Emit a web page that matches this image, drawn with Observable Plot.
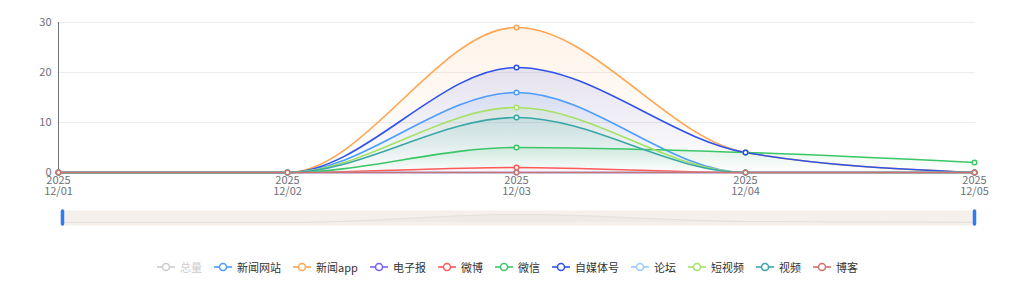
<!DOCTYPE html>
<html><head><meta charset="utf-8">
<script src="https://cdn.jsdelivr.net/npm/d3@7"></script>
<script src="https://cdn.jsdelivr.net/npm/@observablehq/plot@0.6"></script>
<style>
html,body{margin:0;padding:0;background:#fff;}
body{width:1015px;height:288px;overflow:hidden;font-family:"Noto Sans CJK SC","Noto Sans",sans-serif;}
#chart svg,#slider svg{display:block;}
#legend{display:flex;justify-content:center;align-items:center;margin-top:20px;height:14px;font-size:11px;color:#333;}
.item{display:flex;align-items:center;margin-right:12px;white-space:nowrap;}
.item:last-child{margin-right:0;}
.item svg{margin-right:5px;display:block;}
</style></head><body>
<div id="chart"></div>
<div id="slider"></div>
<div id="legend"></div>
<script>
// ---- data ----
const dates = ["2025-12-01","2025-12-02","2025-12-03","2025-12-04","2025-12-05"];
const seriesNames = ["总量","新闻网站","新闻app","电子报","微博","微信","自媒体号","论坛","短视频","视频","博客"];
const seriesColors = ["#CCCCCC","#4D9CFF","#FFA552","#7C5CFF","#FF5B5B","#3DC668","#2E52E8","#99CCFF","#A6E065","#3AA6A6","#C9746F"];
const seriesHidden = [true,false,false,false,false,false,false,false,false,false,false];
const total      = [0,0,96,12,2];
const newsSite   = [0,0,16,0,0];
const newsApp    = [0,0,29,4,0];
const ePaper     = [0,0,0,0,0];
const weibo      = [0,0,1,0,0];
const weixin     = [0,0,5,4,2];
const selfMedia  = [0,0,21,4,0];
const forum      = [0,0,0,0,0];
const shortVideo = [0,0,13,0,0];
const video      = [0,0,11,0,0];
const blog       = [0,0,0,0,0];
const seriesValues = [total,newsSite,newsApp,ePaper,weibo,weixin,selfMedia,forum,shortVideo,video,blog];
const yTicks = [0,10,20,30];

// ---- build table ----
const rows = [];
seriesNames.forEach((name,i)=>{
  if (seriesHidden[i]) return;
  seriesValues[i].forEach((v,j)=>rows.push({series:name, idx:i, date:dates[j], value:v}));
});
const visible = seriesNames.map((n,i)=>i).filter(i=>!seriesHidden[i]);
const fmtDate = d => { const [y,m,dd] = d.split("-"); return `${y}\n${m}/${dd}`; };
const axisColor = "#6E7079";

const defs = () => {
  const ns = "http://www.w3.org/2000/svg";
  const el = document.createElementNS(ns,"defs");
  visible.forEach(i=>{
    const g = document.createElementNS(ns,"linearGradient");
    g.setAttribute("id","grad"+i); g.setAttribute("x1","0"); g.setAttribute("y1","0"); g.setAttribute("x2","0"); g.setAttribute("y2","1");
    [[0,0.13],[1,0.0]].forEach(([o,op])=>{
      const s = document.createElementNS(ns,"stop");
      s.setAttribute("offset",o); s.setAttribute("stop-color",seriesColors[i]); s.setAttribute("stop-opacity",op);
      g.appendChild(s);
    });
    el.appendChild(g);
  });
  return el;
};

const marks = [defs,
  Plot.ruleY(yTicks.filter(t=>t>0), {stroke:"#ECECEC", strokeWidth:1}),
  Plot.ruleX([dates[0]], {stroke:axisColor, strokeWidth:1}),
  Plot.axisY({ticks:yTicks, tickSize:0, tickPadding:6, fill:axisColor, fontSize:11, label:null}),
  Plot.axisX({tickSize:0, tickPadding:4, fill:axisColor, fontSize:11, lineHeight:1.0, tickFormat:fmtDate, label:null})
];
visible.forEach(i=>{
  const d = rows.filter(r=>r.idx===i);
  marks.push(Plot.areaY(d, {x:"date", y:"value", curve:"monotone-x", fill:`url(#grad${i})`}));
});
visible.forEach(i=>{
  const d = rows.filter(r=>r.idx===i);
  marks.push(Plot.line(d, {x:"date", y:"value", curve:"monotone-x", stroke:seriesColors[i], strokeWidth:1.6}));
});
visible.forEach(i=>{
  const d = rows.filter(r=>r.idx===i);
  marks.push(Plot.dot(d, {x:"date", y:"value", r:2.3, fill:"#fff", stroke:seriesColors[i], strokeWidth:1.5}));
});

const chart = Plot.plot({
  width:1015, height:200,
  marginLeft:57, marginRight:40, marginTop:22, marginBottom:28,
  style:{fontFamily:'"Noto Sans CJK SC","Noto Sans",sans-serif', background:"#fff"},
  x:{type:"point", domain:dates, padding:0},
  y:{domain:[0,30]},
  marks
});
document.getElementById("chart").appendChild(chart);

// ---- data-zoom slider ----
const totalRows = total.map((v,j)=>({date:dates[j], value:v}));
const slider = Plot.plot({
  width:1015, height:40,
  marginLeft:60, marginRight:40, marginTop:10, marginBottom:15,
  x:{type:"point", domain:dates, padding:0, axis:null},
  y:{domain:[0, d3.max(total)], range:[22,14], axis:null},
  marks:[
    Plot.frame({fill:"#F5F0EB", stroke:"none"}),
    Plot.areaY(totalRows, {x:"date", y:"value", curve:"monotone-x", fill:"#EFEAE4"}),
    Plot.line(totalRows, {x:"date", y:"value", curve:"monotone-x", stroke:"#E4E0DC", strokeWidth:1}),
    Plot.ruleX([dates[0], dates[dates.length-1]], {stroke:"#2E7CF0", strokeWidth:3.5, insetTop:1, insetBottom:1, strokeLinecap:"round"})
  ]
});
document.getElementById("slider").appendChild(slider);

// ---- legend ----
const legend = d3.select("#legend");
seriesNames.forEach((name,i)=>{
  const it = legend.append("div").attr("class","item");
  const c = seriesHidden[i] ? "#CCCCCC" : seriesColors[i];
  const svg = it.append("svg").attr("width",18).attr("height",14);
  svg.append("line").attr("x1",0).attr("x2",18).attr("y1",7).attr("y2",7).attr("stroke",c).attr("stroke-width",1.6);
  svg.append("circle").attr("cx",9).attr("cy",7).attr("r",3.5).attr("fill","#fff").attr("stroke",c).attr("stroke-width",1.5);
  it.append("span").text(name).style("color", seriesHidden[i] ? "#CCCCCC" : "#333");
});
</script>
</body></html>
